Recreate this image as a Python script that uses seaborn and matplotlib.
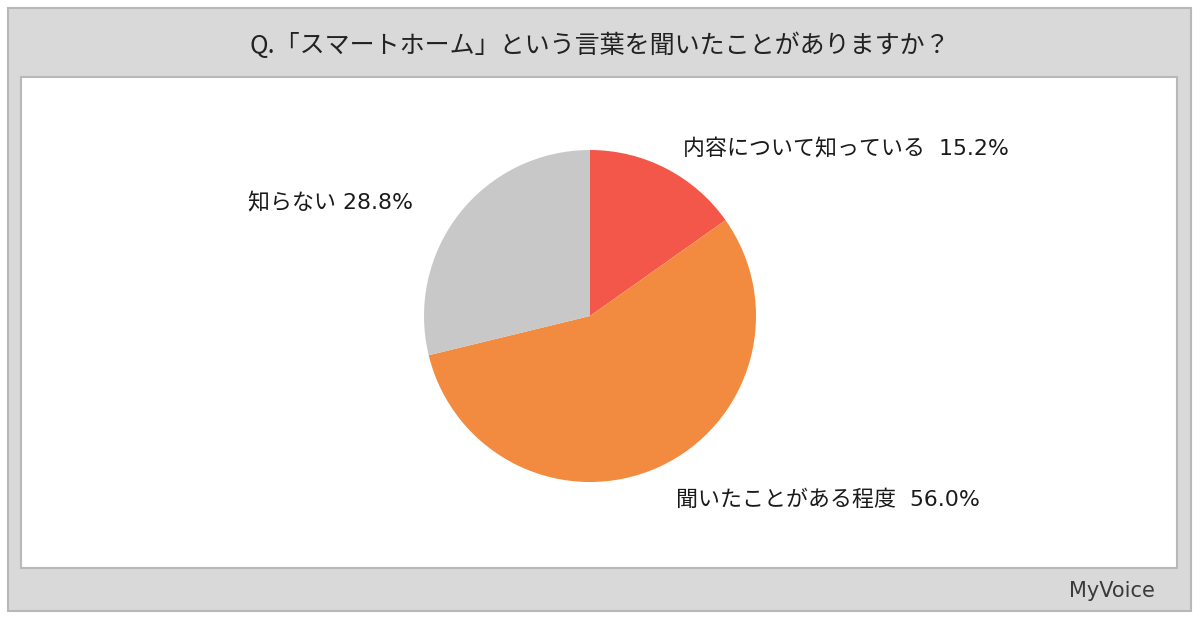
import matplotlib
matplotlib.use("Agg")
import matplotlib.pyplot as plt
import seaborn as sns
from matplotlib.patches import Rectangle

sns.set_theme(style="white")
plt.rcParams['font.family'] = ['Noto Sans CJK JP', 'DejaVu Sans']

title = "Q.「スマートホーム」という言葉を聞いたことがありますか？"
categories = ["内容について知っている", "聞いたことがある程度", "知らない"]
values = [15.2, 56.0, 28.8]
colors = ["#f2574a", "#f28a3f", "#c8c8c8"]

W, H = 1200, 624
fig = plt.figure(figsize=(W / 100, H / 100), dpi=100)
fig.patch.set_facecolor("white")

def px_rect(x0, y0, x1, y1, **kw):
    fig.patches.append(Rectangle((x0 / W, 1 - y1 / H), (x1 - x0) / W, (y1 - y0) / H,
                                 transform=fig.transFigure, figure=fig, zorder=-5, **kw))

# outer gray frame and inner white panel
px_rect(8, 8, 1191, 611, facecolor="#d9d9d9", edgecolor="#b8b8b8", linewidth=1.5)
px_rect(21, 77, 1177, 568, facecolor="white", edgecolor="#b8b8b8", linewidth=1.5)

fig.text(600 / W, 1 - 46 / H, title, ha="center", va="center", fontsize=18, color="#222222")

cx, cy, r = 590, 316, 166
ax = fig.add_axes([(cx - r) / W, 1 - (cy + r) / H, 2 * r / W, 2 * r / H])
ax.set_zorder(5)
ax.patch.set_alpha(0)
ax.pie(values, colors=colors, startangle=90, counterclock=False,
       wedgeprops=dict(linewidth=0))
ax.set_xlim(-1, 1)
ax.set_ylim(-1, 1)
ax.set_aspect("equal")
ax.axis("off")

label_pos = [(683, 149, "  "), (676, 500, "  "), (248, 203, " ")]
for (x, y, sep), c, v in zip(label_pos, categories, values):
    fig.text(x / W, 1 - y / H, f"{c}{sep}{v:.1f}%", ha="left", va="center",
             fontsize=15.8, color="#1a1a1a", family=["DejaVu Sans", "Noto Sans CJK JP"])

fig.text(1112 / W, 1 - 591 / H, "MyVoice", ha="center", va="center", fontsize=15,
         color="#3a3a3a", family=["DejaVu Sans"])

fig.savefig("out.png", dpi=100)
